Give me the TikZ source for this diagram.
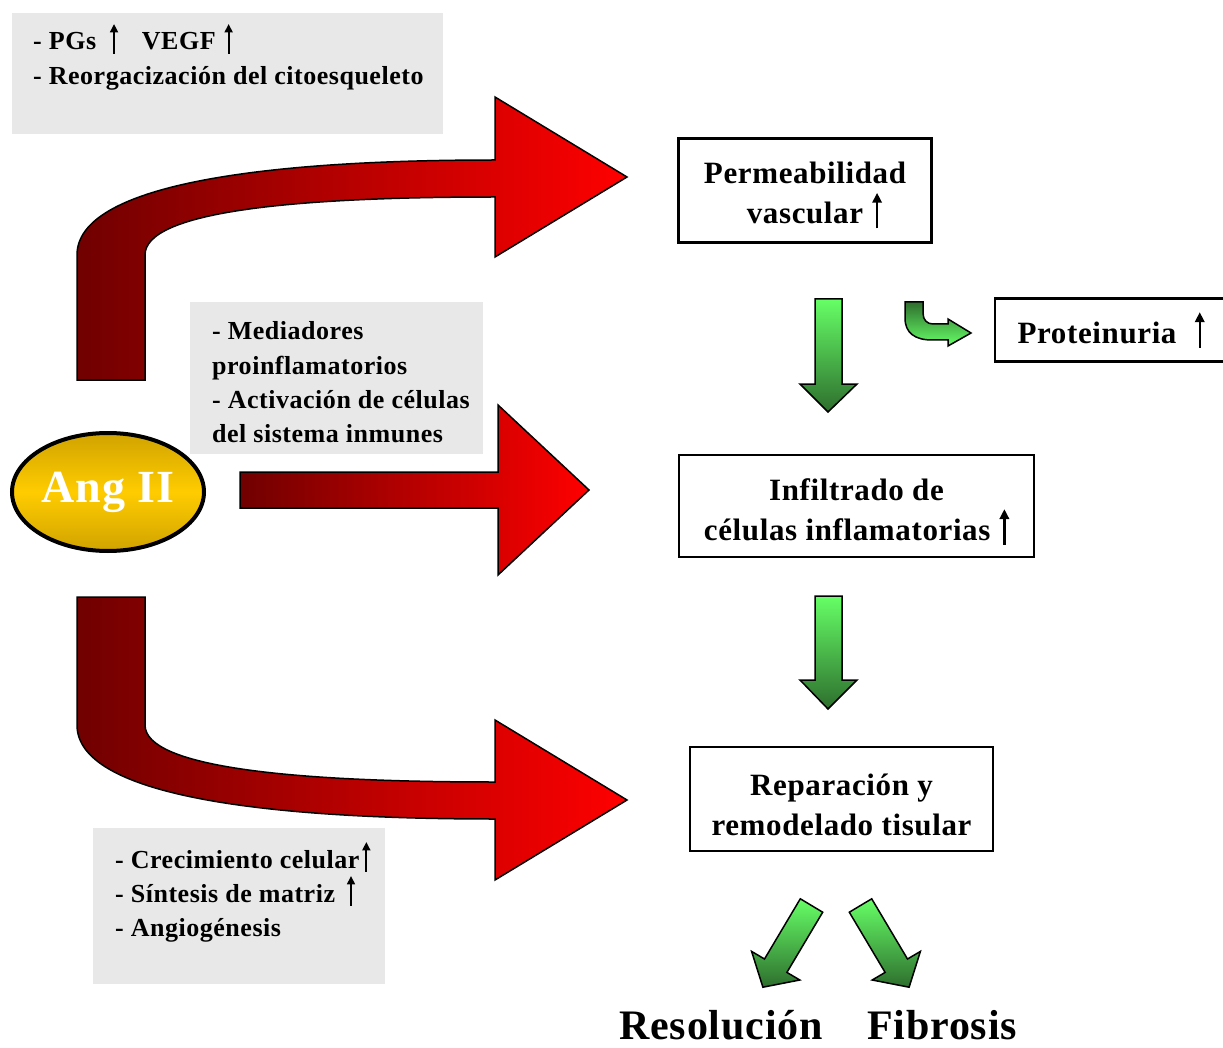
\documentclass[tikz,border=0pt]{standalone}
\usepackage{fontspec}
\setmainfont[LetterSpace=2]{Liberation Serif}
\usetikzlibrary{shapes.geometric,arrows.meta}
\definecolor{boxgray}{RGB}{232,232,232}
\definecolor{arrowdark}{RGB}{112,0,0}
\definecolor{arrowred}{RGB}{255,0,0}
\definecolor{lgreen}{RGB}{102,255,102}
\definecolor{dgreen}{RGB}{46,110,46}
\definecolor{golddark}{RGB}{208,163,0}
\definecolor{goldlight}{RGB}{255,204,0}
\newcommand{\uparr}{\tikz[baseline=0pt]\draw[line width=0.08em,-{Triangle[length=0.32em,width=0.3em]}] (0,-0.15em) -- (0,1.0em);}
\newcommand{\topstrut}{\rule{0pt}{1.05em}}
\begin{document}
\begin{tikzpicture}[x=1pt,y=-1pt,
  redarrow/.style={draw=black,line width=1.5pt,line join=miter,left color=arrowdark,right color=arrowred},
  greenarrow/.style={draw=black,line width=1.5pt,top color=lgreen,bottom color=dgreen},
  greenarrowup/.style={draw=black,line width=1.5pt,top color=dgreen,bottom color=lgreen},
  graybox/.style={fill=boxgray,draw=none,anchor=north west,inner sep=0pt},
  gtext/.style={anchor=base west,inner sep=0pt,font=\fontsize{26}{34}\selectfont\bfseries},
  mainbox/.style={draw=black,line width=2.5pt,fill=white,align=center,inner sep=0pt,
     font=\fontsize{31}{40}\selectfont\bfseries},
  bigtext/.style={anchor=base,inner sep=0pt,font=\fontsize{42}{50}\selectfont\bfseries}]
\useasboundingbox (0,0) rectangle (1223,1048);

% gray boxes
\node[graybox,minimum width=431pt,minimum height=121pt] (gb1) at (12,13) {};
\node[graybox,minimum width=293pt,minimum height=152pt] (gb2) at (190,302) {};
\node[graybox,minimum width=292pt,minimum height=156pt] (gb3) at (93,828) {};

% gray box texts
\node[gtext] (t11) at (33,50) {- PGs\hspace{14pt}\uparr\hspace{24pt}VEGF\hspace{9pt}\uparr};
\node[gtext] (t12) at (33,85) {- Reorgacización del citoesqueleto};
\node[gtext] (t21) at (212,340) {- Mediadores};
\node[gtext] (t22) at (212,374) {proinflamatorios};
\node[gtext] (t23) at (212,408) {- Activación de células};
\node[gtext] (t24) at (212,442) {del sistema inmunes};
\node[gtext] (t31) at (115,868) {- Crecimiento celular\hspace{3pt}\uparr};
\node[gtext] (t32) at (115,902) {- Síntesis de matriz\hspace{12pt}\uparr};
\node[gtext] (t33) at (115,936) {- Angiogénesis};

% red arrows
\path[redarrow] (77,380) -- (77,255) .. controls (77,185) and (260,160) .. (495,160)
  -- (495,97) -- (627,177) -- (495,257) -- (495,197)
  .. controls (290,197) and (145,212) .. (145,255) -- (145,380) -- cycle;
\path[redarrow] (240,472) -- (498,472) -- (498,405) -- (589,490) -- (498,575) -- (498,508) -- (240,508) -- cycle;
\path[redarrow] (77,597) -- (77,725) .. controls (77,795) and (260,819) .. (495,819)
  -- (495,880) -- (627,800) -- (495,720) -- (495,782)
  .. controls (290,782) and (145,767) .. (145,725) -- (145,597) -- cycle;

% Ang II
\node[ellipse,draw=black,line width=4pt,inner sep=0pt,minimum width=192pt,minimum height=118pt,
  top color=golddark,bottom color=golddark,middle color=goldlight,
  text=white,font=\fontsize{46}{54}\selectfont\bfseries] (ang) at (108,492) {Ang II};

% main boxes
\node[mainbox,minimum width=253pt,minimum height=104pt] (perm) at (805,190.5)
  {\topstrut Permeabilidad\\\hspace*{0.6em}vascular\hspace{0.3em}\uparr};
\node[mainbox,minimum width=355pt,minimum height=102pt] (infl) at (856.5,506)
  {\rule{0pt}{1.1em}Infiltrado de\\células inflamatorias\hspace{0.3em}\uparr};
\node[mainbox,minimum width=303pt,minimum height=104pt] (repa) at (841.5,799)
  {\topstrut Reparación y\\remodelado tisular};
\node[mainbox,minimum width=232pt,minimum height=63pt] (prot) at (1111,330)
  {Proteinuria\hspace{0.6em}\uparr};

% green arrows
\path[greenarrow] (815,299) -- (842,299) -- (842,384) -- (857,384) -- (828,412) -- (800,384) -- (815,384) -- cycle;
\path[greenarrow] (815,596) -- (842,596) -- (842,680) -- (857,680) -- (828,709) -- (800,680) -- (815,680) -- cycle;
\path[greenarrowup] (905,302) -- (905,318) .. controls (905,333) and (915,340) .. (932,340)
  -- (948,340) -- (948,346) -- (971,333) -- (948,319) -- (948,324) -- (933,324)
  .. controls (927,324) and (923,320) .. (923,313) -- (923,302) -- cycle;
\path[greenarrow] (822.7,912.2) -- (786.9,972.4) -- (799.8,980.0) -- (762.9,987.2)
  -- (751.6,951.4) -- (764.5,959.0) -- (800.3,898.8) -- cycle;
\path[greenarrow] (849.3,912.2) -- (885.1,972.4) -- (872.2,980.0) -- (909.1,987.2)
  -- (920.4,951.4) -- (907.5,959.0) -- (871.7,898.8) -- cycle;

% outcomes
\node[bigtext] (reso) at (721,1039) {Resolución};
\node[bigtext] (fibr) at (942,1039) {Fibrosis};
\end{tikzpicture}
\end{document}
